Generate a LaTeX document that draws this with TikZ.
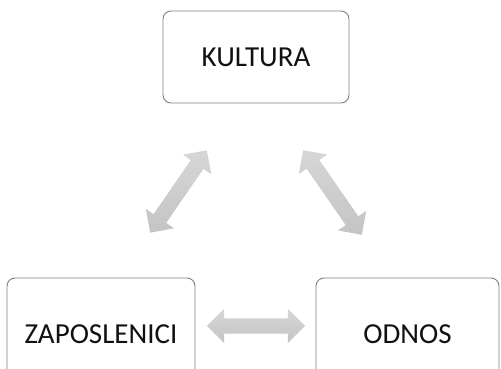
\documentclass[tikz,border=0pt]{standalone}
\usepackage{fontspec}
\setmainfont{Carlito}
\usetikzlibrary{shapes.arrows}
\definecolor{boxline}{HTML}{7F7F7F}
\definecolor{txt}{HTML}{111111}
\definecolor{arrtop}{HTML}{D6D6D6}
\definecolor{arrbot}{HTML}{C4C4C4}
\begin{document}
\begin{tikzpicture}[x=1pt,y=1pt,
  box/.style={draw=boxline, line width=0.9pt, rounded corners=8pt, fill=white,
    text=txt, font=\fontsize{29}{29}\selectfont, inner sep=0pt},
  darrow/.style={double arrow, draw=none, shading=axis, top color=arrtop, bottom color=arrbot,
    minimum width=0pt, inner xsep=0pt, inner ysep=7.5pt, text height=0pt, text depth=0pt,
    double arrow head extend=9.5pt, double arrow head indent=0pt,
    outer sep=0pt, sloped}
]
\useasboundingbox (0,0) rectangle (501,369);
\clip (0,0) rectangle (501,369);
\node[box, minimum width=186pt, minimum height=92pt] (kul) at (256,312) {KULTURA};
\node[box, minimum width=188pt, minimum height=112pt] (zap) at (101,35) {ZAPOSLENICI};
\node[box, minimum width=183pt, minimum height=112pt] (odn) at (407.5,35) {ODNOS};
% connector end points
\coordinate (l1) at (150,136);
\coordinate (l2) at (207,219);
\coordinate (r1) at (303,219);
\coordinate (r2) at (362,134);
\coordinate (h1) at (207,43);
\coordinate (h2) at (305,43);
\path (l1) -- (l2) node[darrow, midway, minimum height=100pt] {};
\path (r1) -- (r2) node[darrow, midway, minimum height=103pt] {};
\path (h1) -- (h2) node[darrow, midway, minimum height=98pt] {};
\end{tikzpicture}
\end{document}
